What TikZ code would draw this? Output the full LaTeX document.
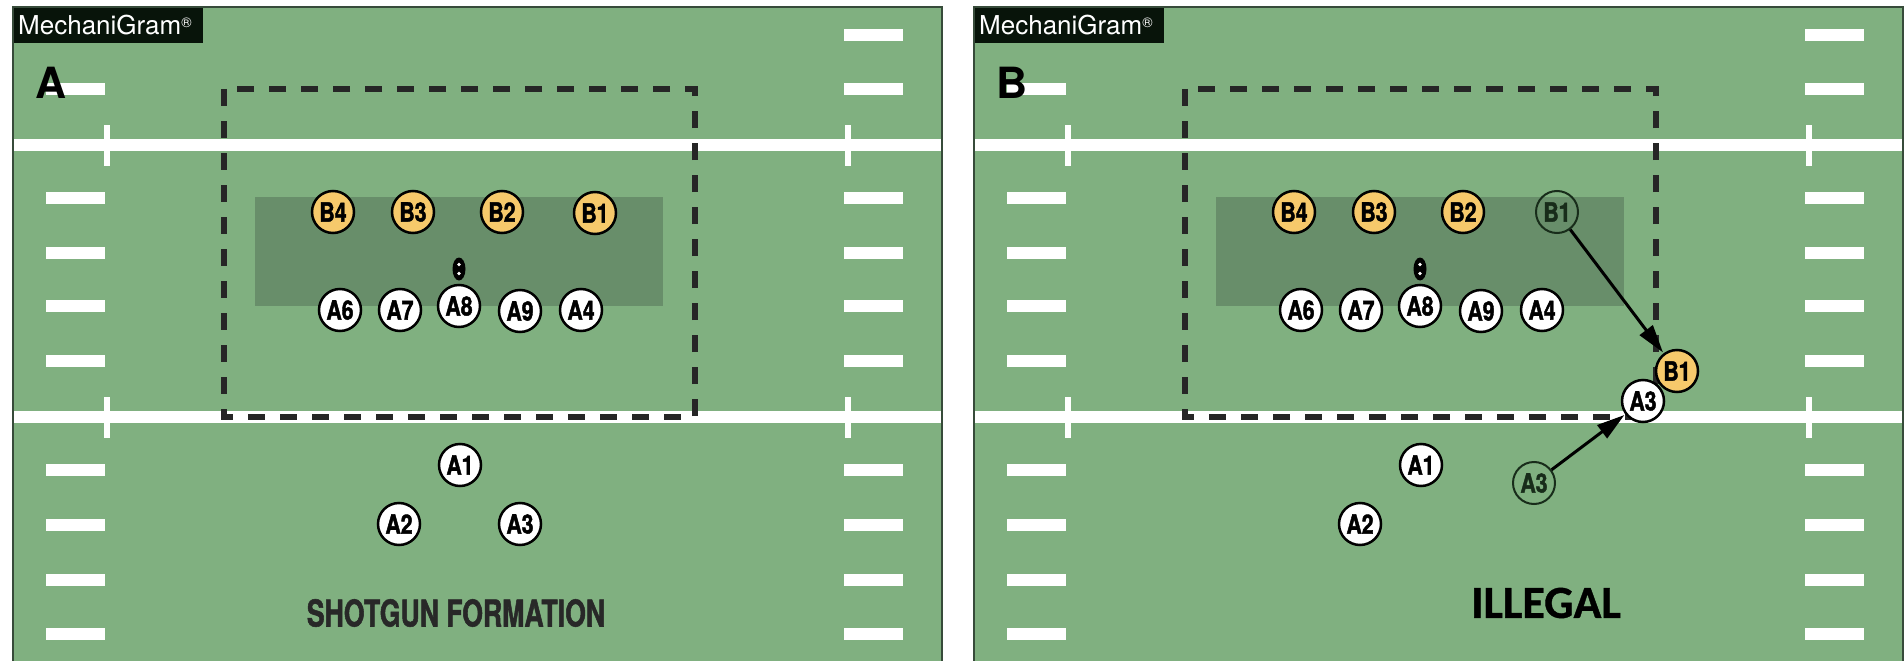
\documentclass[tikz,border=0pt]{standalone}
\usepackage{fontspec}
\setmainfont{TeX Gyre Heros}
\newfontfamily\cond[FakeStretch=0.8,FakeBold=1.6]{TeX Gyre Heros}
\newfontfamily\condt[FakeStretch=0.72,FakeBold=1.4]{TeX Gyre Heros}
\newfontfamily\cali[FakeBold=0.8]{Carlito}
\usetikzlibrary{arrows.meta}
\definecolor{field}{RGB}{128,176,128}
\definecolor{darkzone}{RGB}{104,142,106}
\definecolor{panelborder}{RGB}{55,75,58}
\definecolor{gold}{RGB}{246,201,107}
\definecolor{ghost}{RGB}{24,44,26}
\definecolor{logobg}{RGB}{8,20,10}
\tikzset{
  hashmark/.style={white, line width=12pt},
  yardline/.style={white, line width=12pt},
  yardtick/.style={white, line width=6pt},
  zone/.style={black!85, line width=5.5pt, dash pattern=on 17pt off 15pt},
  player/.style={circle, draw=black, line width=2.5pt, fill=white, minimum size=42pt, inner sep=0pt,
    font=\cond\bfseries\fontsize{26.5}{26.5}\selectfont},
  defender/.style={player, fill=gold},
  ghostp/.style={player, draw=ghost, fill=none, line width=2pt, text=ghost},
  move/.style={black, line width=3pt, -{Triangle[length=28pt,width=16pt]}, shorten >=1pt, shorten <=0pt},
  logo/.style={anchor=west, text=white, inner sep=0pt, font=\fontsize{26}{26}\selectfont},
  panelletter/.style={inner sep=0pt, font=\bfseries\fontsize{43}{43}\selectfont},
}
\newcommand{\fieldbase}{%
  \fill[field] (13,7) rectangle (942,664);
  \foreach \yy in {89,198,253,306,361,470,525,580,634} {\draw[hashmark] (46,\yy) -- (105,\yy);}
  \foreach \yy in {35,89,198,253,306,361,470,525,580,634} {\draw[hashmark] (844,\yy) -- (903,\yy);}
  \draw[yardline] (13,145) -- (942,145);
  \draw[yardline] (13,417) -- (942,417);
  \draw[yardtick] (107,125) -- (107,166);
  \draw[yardtick] (848,125) -- (848,166);
  \draw[yardtick] (107,397) -- (107,438);
  \draw[yardtick] (848,397) -- (848,438);
  \fill[darkzone] (255,197) rectangle (663,306);
  \draw[zone] (224,89) rectangle (695,417);
  \fill[logobg] (13,7) rectangle (203,43);
  \fill[black] (459,269) ellipse [x radius=6.5, y radius=11.5];
  \fill[white] (459,264.5) circle (1.8);
  \fill[white] (459,273.5) circle (1.8);
}
\begin{document}
\begin{tikzpicture}[x=1pt,y=-1pt]
\useasboundingbox (0,0) rectangle (1904,661);
\fill[white] (0,0) rectangle (1904,661);
% ---------- Panel A ----------
\begin{scope}
  \fieldbase
  \node[panelletter] (letA) at (51,83) {A};
  \node[logo] (logoA) at (18,25) {MechaniGram\raisebox{7pt}{\fontsize{14}{14}\selectfont ®}};
  \node[defender] (B4a) at (333,212) {B4};
  \node[defender] (B3a) at (413,212) {B3};
  \node[defender] (B2a) at (502,212) {B2};
  \node[defender] (B1a) at (595,213) {B1};
  \node[player] (A6a) at (340,310) {A6};
  \node[player] (A7a) at (400,310) {A7};
  \node[player] (A8a) at (459,306) {A8};
  \node[player] (A9a) at (520,311) {A9};
  \node[player] (A4a) at (581,310) {A4};
  \node[player] (A1a) at (460,465) {A1};
  \node[player] (A2a) at (399,524) {A2};
  \node[player] (A3a) at (520,524) {A3};
  \node[inner sep=0pt, text={rgb,255:red,40;green,40;blue,40}, font=\condt\bfseries\fontsize{37}{37}\selectfont] (capA) at (456,613) {SHOTGUN FORMATION};
  \draw[panelborder, line width=2pt] (13,7) rectangle (942,664);
\end{scope}
% ---------- Panel B ----------
\begin{scope}[xshift=961pt]
  \fieldbase
  \node[panelletter] (letB) at (51,83) {B};
  \node[logo] (logoB) at (18,25) {MechaniGram\raisebox{7pt}{\fontsize{14}{14}\selectfont ®}};
  \node[defender] (B4b) at (333,212) {B4};
  \node[defender] (B3b) at (413,212) {B3};
  \node[defender] (B2b) at (502,212) {B2};
  \node[ghostp] (gB1) at (596,212) {B1};
  \node[player] (A6b) at (340,310) {A6};
  \node[player] (A7b) at (400,310) {A7};
  \node[player] (A8b) at (459,306) {A8};
  \node[player] (A9b) at (520,311) {A9};
  \node[player] (A4b) at (581,310) {A4};
  \node[player] (A1b) at (460,465) {A1};
  \node[player] (A2b) at (399,524) {A2};
  \node[ghostp] (gA3) at (573,483) {A3};
  \node[defender] (nB1) at (716,371) {B1};
  \node[player] (nA3) at (682,401) {A3};
  \draw[move] (gB1) -- (nB1);
  \draw[move] (gA3) -- (nA3);
  \node[inner sep=0pt, font=\cali\bfseries\fontsize{46}{46}\selectfont] (capB) at (585,603) {ILLEGAL};
  \draw[panelborder, line width=2pt] (13,7) rectangle (942,664);
\end{scope}
\end{tikzpicture}
\end{document}
